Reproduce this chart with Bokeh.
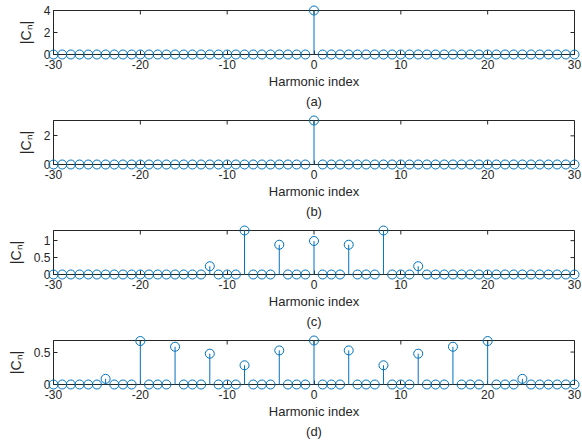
import math
from bokeh.plotting import figure
from bokeh.layouts import column
from bokeh.models import FixedTicker, Range1d, Title, ColumnDataSource
from bokeh.embed import file_html
from bokeh.resources import INLINE

harmonics = list(range(-30, 31))

a_idx = [0]
a_vals = [4.0]
b_idx = [0]
b_vals = [3.07]
c_idx = [-12, -8, -4, 0, 4, 8, 12]
c_vals = [0.244, 1.30, 0.88, 0.99, 0.88, 1.30, 0.244]
d_idx = [-24, -20, -16, -12, -8, -4, 0, 4, 8, 12, 16, 20, 24]
d_vals = [0.087, 0.67, 0.582, 0.475, 0.296, 0.525, 0.678, 0.525, 0.296, 0.475, 0.582, 0.67, 0.087]

x_ticks = [-30, -20, -10, 0, 10, 20, 30]
x_tick_labels = ["-30", "-20", "-10", "0", "10", "20", "30"]
a_yticks = [0, 2, 4]
a_ylabels = ["0", "2", "4"]
b_yticks = [0, 2]
b_ylabels = ["0", "2"]
c_yticks = [0, 0.5, 1]
c_ylabels = ["0", "0.5", "1"]
d_yticks = [0, 0.5]
d_ylabels = ["0", "0.5"]
panel_labels = ["(a)", "(b)", "(c)", "(d)"]

BLUE = "#0072BD"
AX = "#262626"
FONT = "Liberation Sans"


def full(idx, vals):
    m = dict(zip(idx, vals))
    return [m.get(h, 0.0) for h in harmonics]


def style_axis(ax):
    ax.axis_line_color = AX
    ax.axis_line_width = 1
    ax.major_tick_line_color = AX
    ax.major_tick_in = 4
    ax.major_tick_out = 0
    ax.minor_tick_line_color = None
    ax.major_label_text_font = FONT
    ax.major_label_text_font_size = "12px"
    ax.major_label_text_color = AX
    ax.axis_label_text_font = FONT
    ax.axis_label_text_font_size = "13px"
    ax.axis_label_text_font_style = "normal"
    ax.axis_label_text_color = AX


def make_panel(idx, vals, yticks, ylabels, label):
    y = full(idx, vals)
    ymax = max(y)
    xmin, xmax = harmonics[0], harmonics[-1]
    src = ColumnDataSource(dict(x=harmonics, y=y, y0=[0.0] * len(y)))
    p = figure(width=582, height=110, output_backend="svg", toolbar_location=None,
               x_range=Range1d(xmin, xmax), y_range=Range1d(0, ymax),
               min_border_left=53, min_border_right=8, min_border_top=10,
               min_border_bottom=56, background_fill_color="white",
               border_fill_color="white", outline_line_color=AX)
    p.grid.visible = False

    # inward ticks on the top and right edges (half of each dash is clipped by the frame)
    p.scatter(x=x_ticks, y=[ymax] * len(x_ticks), marker="dash", angle=math.pi / 2,
              size=8, line_color=AX, line_width=1)
    p.scatter(x=[xmax] * len(yticks), y=yticks, marker="dash", angle=0,
              size=8, line_color=AX, line_width=1)

    seg = p.segment(x0="x", y0="y0", x1="x", y1="y", source=src, line_color=BLUE, line_width=1)
    sc = p.scatter(x="x", y="y", source=src, marker="circle", size=9,
                   fill_color=None, line_color=BLUE, line_width=1)
    seg.level = "overlay"
    sc.level = "overlay"

    p.xaxis.ticker = FixedTicker(ticks=x_ticks)
    p.xaxis.major_label_overrides = dict(zip(x_ticks, x_tick_labels))
    p.yaxis.ticker = FixedTicker(ticks=yticks)
    p.yaxis.major_label_overrides = dict(zip(yticks, ylabels))
    p.xaxis.axis_label = "Harmonic index"
    p.yaxis.axis_label = "|Cₙ|"
    style_axis(p.xaxis[0])
    style_axis(p.yaxis[0])
    p.yaxis.axis_label_text_font_size = "14px"
    p.xaxis.major_label_standoff = 5
    p.xaxis.axis_label_standoff = 2
    p.yaxis.major_label_standoff = 3
    p.yaxis.axis_label_standoff = 7

    t = Title(text=label, align="center", text_font=FONT, text_font_size="13px",
              text_font_style="normal", text_color=AX, standoff=0)
    p.add_layout(t, "below")
    return p


panels = [
    make_panel(a_idx, a_vals, a_yticks, a_ylabels, panel_labels[0]),
    make_panel(b_idx, b_vals, b_yticks, b_ylabels, panel_labels[1]),
    make_panel(c_idx, c_vals, c_yticks, c_ylabels, panel_labels[2]),
    make_panel(d_idx, d_vals, d_yticks, d_ylabels, panel_labels[3]),
]

layout = column(*panels, spacing=0)
open("out.html", "w").write(file_html(layout, INLINE))
